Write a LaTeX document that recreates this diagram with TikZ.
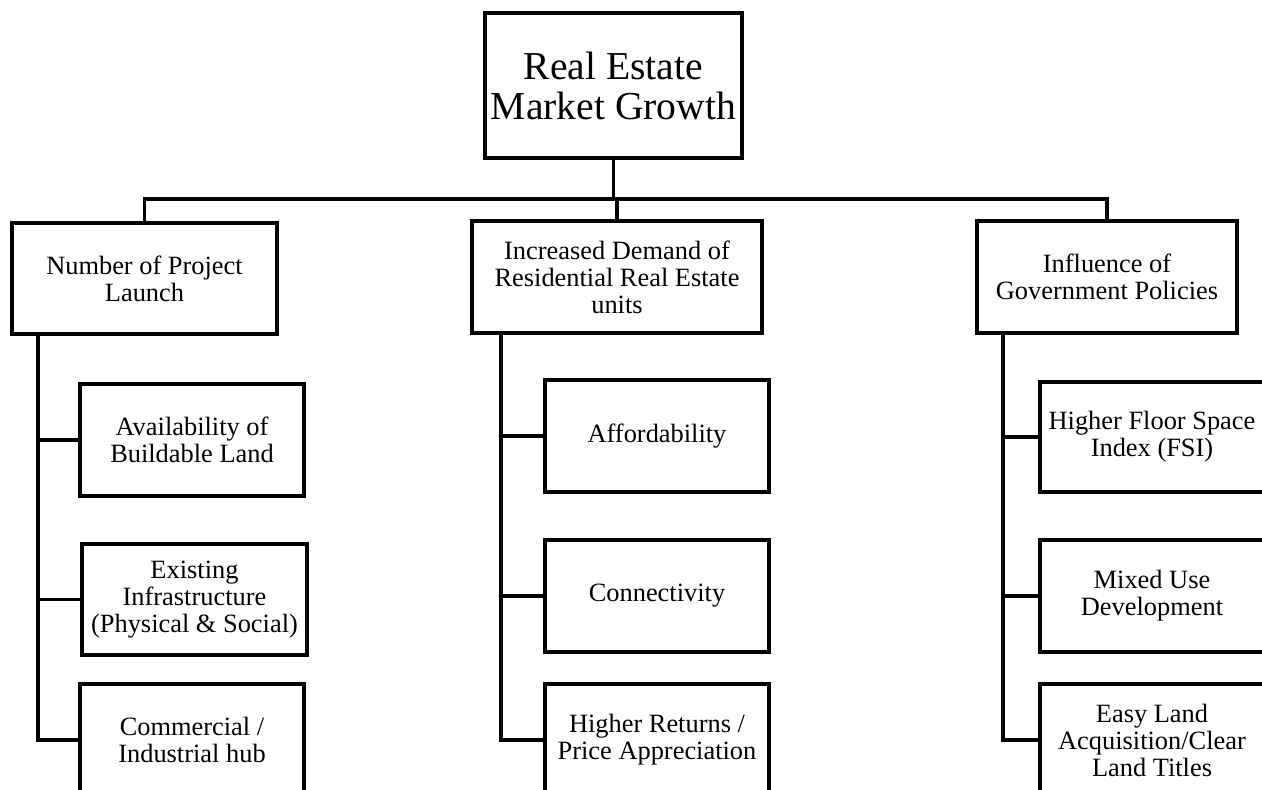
\documentclass[tikz,border=0pt]{standalone}
\usepackage{fontspec}
\setmainfont{Liberation Serif}
\begin{document}
\begin{tikzpicture}[x=0.5pt,y=-0.5pt,
  box/.style={draw, line width=2pt, align=center, inner sep=0pt,
    font=\fontsize{13.2}{13.5}\selectfont},
  rootbox/.style={box, font=\fontsize{19.8}{20}\selectfont},
  conn/.style={line width=1.7pt, line join=miter}]
\useasboundingbox (0,0) rectangle (1262,789);
\clip (0,0) rectangle (1262,789);
% root
\node[rootbox, minimum width=128.5pt, minimum height=72.5pt] (root) at (613.5,85.5) {Real Estate\\Market Growth};
% level 1
\node[box, minimum width=132.5pt, minimum height=55.5pt] (L) at (144.5,278.5) {Number of Project\\Launch};
\node[box, minimum width=145pt, minimum height=56pt] (M) at (617,277) {Increased Demand of\\Residential Real Estate\\units};
\node[box, minimum width=130pt, minimum height=56pt] (R) at (1107,277) {Influence of\\Government Policies};
% level 2 left
\node[box, minimum width=112pt, minimum height=56pt] (L1) at (192,440) {Availability of\\Buildable Land};
\node[box, minimum width=112.5pt, minimum height=55.5pt] (L2) at (194.5,599.5) {Existing\\Infrastructure\\(Physical \& Social)};
\node[box, minimum width=112pt, minimum height=56pt] (L3) at (192,740) {Commercial /\\Industrial hub};
% level 2 middle
\node[box, minimum width=112pt, minimum height=56pt] (M1) at (657,436) {Affordability};
\node[box, minimum width=112pt, minimum height=56pt] (M2) at (657,596) {Connectivity};
\node[box, minimum width=112pt, minimum height=56pt] (M3) at (657,740) {Higher Returns /\\Price Appreciation};
% level 2 right
\node[box, minimum width=112pt, minimum height=55pt] (R1) at (1152,437) {Higher Floor Space\\Index (FSI)};
\node[box, minimum width=112pt, minimum height=56pt] (R2) at (1152,596) {Mixed Use\\Development};
\node[box, minimum width=112pt, minimum height=56pt] (R3) at (1152,740) {Easy Land\\Acquisition/Clear\\Land Titles};
% bus
\coordinate (bus) at (0,199);
\draw[conn] (root.south) -- (root.south |- bus);
\draw[conn] (L.north) -- (L.north |- bus) -- (R.north |- bus) -- (R.north);
\draw[conn] (M.north) -- (M.north |- bus);
% trunks
\coordinate (Lt) at (38,0);
\coordinate (Mt) at (501,0);
\coordinate (Rt) at (1003,0);
\draw[conn] (Lt |- L.south) -- (Lt |- L3.west) -- (L3.west);
\draw[conn] (Mt |- M.south) -- (Mt |- M3.west) -- (M3.west);
\draw[conn] (Rt |- R.south) -- (Rt |- R3.west) -- (R3.west);
\foreach \c in {L1,L2} \draw[conn] (Lt |- \c.west) -- (\c.west);
\foreach \c in {M1,M2} \draw[conn] (Mt |- \c.west) -- (\c.west);
\foreach \c in {R1,R2} \draw[conn] (Rt |- \c.west) -- (\c.west);
\end{tikzpicture}
\end{document}
